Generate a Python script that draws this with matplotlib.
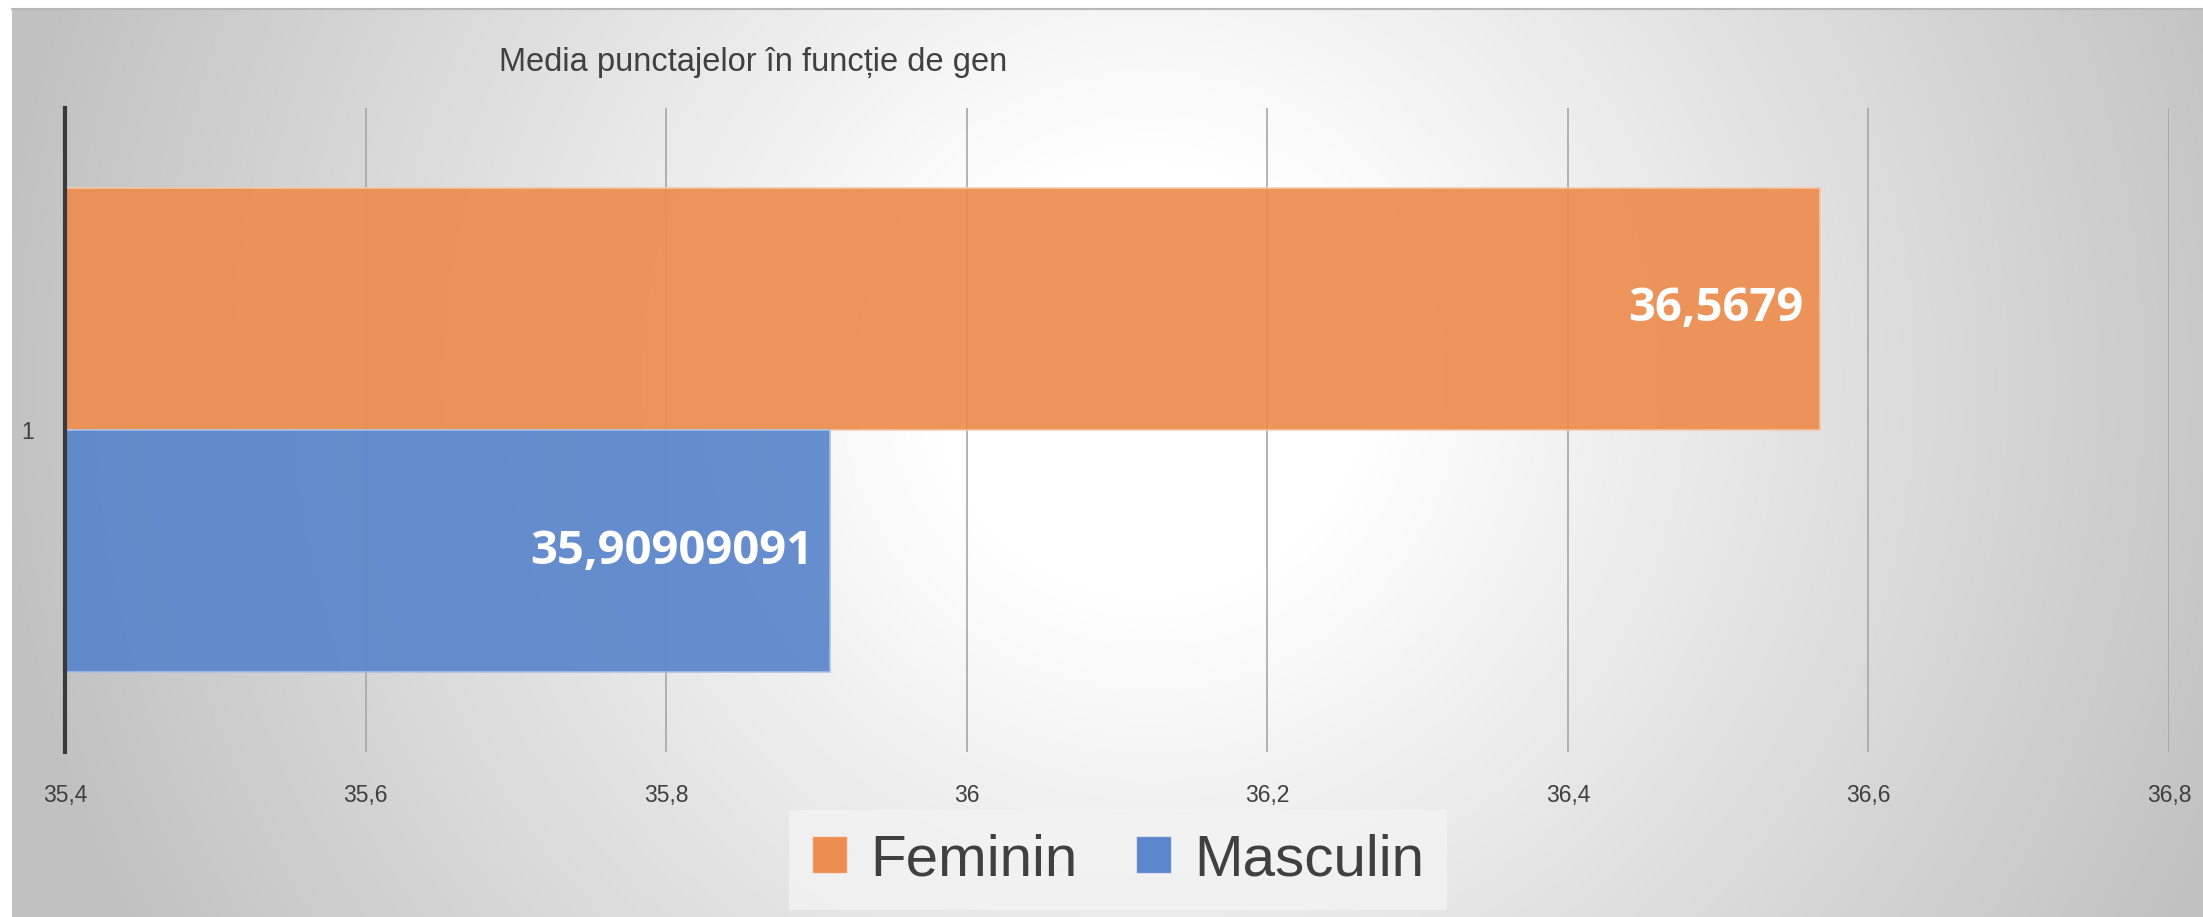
import matplotlib.pyplot as plt
from matplotlib import font_manager
from matplotlib.patches import Patch
import numpy as np

# date
categorii = ['1']
serii = ['Feminin', 'Masculin']
medii = [36.5679, 35.90909091]
etichete = ['36,5679', '35,90909091']
culori = ['#ED8D4F', '#5B86CB']
xticks = [35.4, 35.6, 35.8, 36.0, 36.2, 36.4, 36.6, 36.8]
xtick_labels = ['35,4', '35,6', '35,8', '36', '36,2', '36,4', '36,6', '36,8']

names = {f.name for f in font_manager.fontManager.ttflist}
narrow = 'Liberation Sans Narrow' if 'Liberation Sans Narrow' in names else 'Liberation Sans'

W, H = 2203, 917
fig = plt.figure(figsize=(W / 100, H / 100), dpi=100)

# fundal cu gradient radial
bg = fig.add_axes([0, 0, 1, 1])
yy, xx = np.mgrid[0:H, 0:W]
r = np.hypot(xx - 1150, yy - 380)
g = 1 - 0.24 * np.clip((r - 220) / 930, 0, 1)
img = np.dstack([g, g, g])
img[:8, :, :] = 1.0
img[:, :12, :] = 1.0
bg.imshow(img, extent=[0, W, H, 0], aspect='auto', interpolation='bilinear')
bg.plot([12, W], [8.5, 8.5], color='#b8b8b8', lw=1.5)
bg.set_xlim(0, W); bg.set_ylim(H, 0)
bg.axis('off')

ax = fig.add_axes([65 / W, 1 - 752 / H, (2169 - 65) / W, (752 - 108) / H])
ax.patch.set_alpha(0)
h = 0.3765
pos = [h / 2, -h / 2]
for i in range(len(serii)):
    ax.barh(pos[i], medii[i] - 35.4, left=35.4, height=h, color=culori[i],
            alpha=0.93, edgecolor='#f4c9a8' if i == 0 else '#a9c0e8', linewidth=1.2, zorder=3)
    ax.text(medii[i] - 0.011, pos[i], etichete[i], ha='right', va='center',
            color='white', fontsize=34, fontweight='bold', family=['Open Sans', 'DejaVu Sans'], zorder=4)

ax.set_xlim(35.4, 36.8)
ax.set_ylim(-0.5, 0.5)
ax.set_xticks(xticks)
ax.set_xticklabels(xtick_labels, fontsize=16.5, color='#404040', family=narrow)
ax.set_yticks([0])
ax.set_yticklabels(categorii, fontsize=16.5, color='#404040', family=narrow)
ax.tick_params(axis='x', length=0, pad=23)
ax.tick_params(axis='y', length=0, pad=22)
ax.grid(axis='x', color='#a6a6a6', linewidth=1.2, zorder=1)
for s in ['top', 'right', 'bottom']:
    ax.spines[s].set_visible(False)
ax.spines['left'].set_color('#3a3a3a')
ax.spines['left'].set_linewidth(3)
ax.spines['left'].set_zorder(5)

fig.text(753 / W, 1 - 63 / H, 'Media punctajelor în funcție de gen', ha='center', va='center',
         fontsize=23.5, color='#404040', family=narrow)

handles = [Patch(facecolor=culori[i], edgecolor='#ffffff80', label=serii[i]) for i in range(2)]
leg = fig.legend(handles=handles, loc='center', bbox_to_anchor=(1118 / W, 1 - 860 / H), ncol=2,
                 frameon=True, fancybox=False, prop={'family': narrow, 'size': 42},
                 handlelength=0.6, handleheight=0.62, handletextpad=0.4, columnspacing=1.0,
                 borderpad=0.4, borderaxespad=0)
leg.get_frame().set_facecolor('#f4f4f4')
leg.get_frame().set_alpha(0.75)
leg.get_frame().set_edgecolor('none')
for t in leg.get_texts():
    t.set_color('#404040')

fig.savefig('out.png', dpi=100)
